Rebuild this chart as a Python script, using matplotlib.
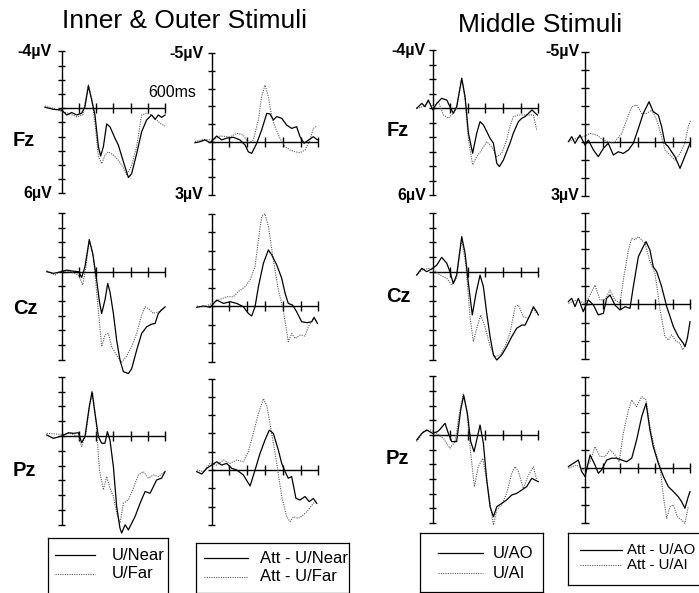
import matplotlib
matplotlib.use("Agg")
import matplotlib.pyplot as plt

plt.rcParams['font.family'] = ['Liberation Sans', 'DejaVu Sans']

W, H = 699, 593

# ERP values: (time in ms, amplitude in µV), negative plotted up
# --- Inner & Outer stimuli, unattended ERPs
io_fz_near = [(-97, -0.07), (-48, 0.07), (0, 0.12), (29, 0.47), (58, 0.3), (87, 0.47), (116, 0.35), (135, -0.12),
              (155, -1.58), (174, -0.6), (193, 0.47), (213, 2.7), (226, 3.36), (242, 2.7), (261, 1.1), (280, 1.3),
              (309, 2.1), (329, 2.6), (358, 3.76), (387, 4.87), (406, 4.6), (435, 3.2), (464, 1.65), (493, 0.82),
              (522, 0.47), (542, 0.78), (561, 0.47), (580, 0.64), (600, 0.47)]
io_fz_far = [(-97, -0.16), (-48, 0), (0, 0.24), (39, 0.35), (87, 0.6), (122, 0.47), (139, -0.6), (155, -1.65),
             (174, -0.7), (193, 1.06), (213, 3.4), (232, 3.9), (251, 3.3), (271, 3.06), (300, 3.3), (329, 3.65),
             (358, 4.2), (377, 4.7), (406, 4.0), (435, 2.7), (464, 0.47), (493, 0.35), (522, 0.47), (551, 0.82),
             (571, 1.06), (600, 1.25)]
io_cz_near = [(-87, 0), (-48, 0.11), (0, 0), (29, -0.11), (58, -0.05), (97, 0), (116, 0.39), (135, -0.34),
              (160, -2.16), (180, -1.25), (203, 0.57), (219, 2.05), (232, 2.84), (251, 1.93), (267, 0.8), (280, 1.36),
              (300, 2.84), (319, 4.66), (338, 6.0), (358, 6.8), (387, 6.93), (406, 6.6), (435, 5.34), (464, 4.2),
              (493, 3.75), (522, 3.57), (542, 3.52), (561, 2.84), (580, 2.6), (600, 2.39)]
io_cz_far = [(-87, -0.07), (-39, 0.23), (0, -0.07), (48, 0), (97, 0.23), (122, 0.9), (141, -0.34), (160, -2.2),
             (184, -1.0), (207, 1.93), (232, 5.1), (251, 4.3), (271, 4.2), (290, 5.1), (319, 5.7), (348, 6.14),
             (373, 5.8), (406, 5.1), (435, 4.2), (464, 2.95), (484, 2.39), (503, 2.5), (532, 2.84), (561, 2.73),
             (600, 2.43)]
io_pz_near = [(-87, -0.07), (-48, 0.16), (0, 0), (39, -0.22), (68, -0.18), (97, -0.22), (116, 0.45), (135, 0.04),
              (160, -1.98), (176, -2.99), (193, -1.53), (213, 0.04), (232, 0.49), (251, 0.49), (265, -0.29),
              (280, 0.27), (300, 2.07), (319, 4.76), (338, 6.22), (348, 6.56), (368, 6.0), (387, 6.34), (406, 5.9),
              (426, 5.44), (455, 4.54), (484, 3.75), (513, 3.87), (532, 3.42), (551, 2.97), (580, 2.85), (600, 2.4)]
io_pz_far = [(-87, -0.18), (0, -0.11), (48, -0.18), (97, 0.04), (116, 0.72), (141, -0.18), (164, -2.2),
             (180, -2.9), (199, -1.08), (219, 2.29), (242, 3.64), (261, 2.74), (280, 3.53), (300, 4.09), (319, 5.2),
             (338, 5.9), (358, 4.54), (387, 4.31), (416, 3.53), (445, 2.63), (474, 2.4), (503, 2.85), (532, 2.63),
             (561, 2.74), (600, 2.4)]

# --- Inner & Outer stimuli, attended minus unattended
io_fz_dnear = [(-94, 0.06), (-66, 0), (-38, -0.1), (-9, 0.06), (28, -0.32), (56, -0.1), (84, -0.2), (122, -0.25),
               (159, -0.1), (188, 0.19), (206, 0.57), (225, 0.66), (253, 0.1), (281, -0.66), (310, -1.6),
               (328, -1.57), (347, -1.23), (366, -1.42), (394, -1.32), (422, -0.94), (450, -0.75), (478, -0.85),
               (497, -0.28), (520, 0.09), (544, -0.09), (572, -0.28), (591, -0.13), (600, -0.09)]
io_fz_dfar = [(-94, 0), (-47, -0.13), (9, -0.09), (47, -0.32), (103, -0.28), (141, -0.47), (178, -0.38),
              (206, 0.09), (234, -0.09), (263, -1.23), (281, -2.55), (300, -3.2), (319, -2.55), (338, -1.42),
              (356, -0.85), (384, -0.19), (413, 0.28), (441, 0.47), (469, 0.57), (497, 0.62), (525, 0.47),
              (553, -0.09), (572, -0.75), (591, -0.89)]
io_cz_dnear = [(-84, 0.07), (-47, 0), (-9, 0.07), (28, -0.32), (66, -0.14), (103, -0.23), (141, -0.14),
               (178, 0.04), (206, 0.4), (225, 0.54), (244, 0.04), (263, -1.05), (291, -2.31), (319, -3.03),
               (338, -2.76), (366, -2.22), (394, -1.5), (413, -0.69), (431, -0.14), (455, -0.05), (478, 0.31),
               (506, 0.85), (535, 0.9), (563, 0.85), (576, 0.61), (595, 0.94)]
io_cz_dfar = [(-84, 0), (-47, 0.07), (0, -0.14), (38, -0.32), (84, -0.5), (122, -0.5), (150, -0.78), (188, -1.05),
              (216, -1.41), (244, -2.13), (263, -3.57), (281, -4.84), (300, -4.98), (319, -4.3), (347, -2.49),
              (375, -0.87), (403, 0.22), (431, 1.93), (450, 1.48), (469, 1.75), (497, 1.57), (525, 1.62),
              (544, 1.12), (572, 0.67), (591, 0.85)]
io_pz_dnear = [(-84, 0.09), (-56, 0.22), (-28, -0.09), (0, -0.27), (28, -0.45), (56, -0.27), (84, -0.36),
               (113, -0.09), (141, 0), (178, 0.27), (216, 0.87), (244, 0), (272, -0.91), (300, -1.64),
               (324, -2.18), (347, -2.0), (375, -1.09), (394, -0.36), (413, 0.09), (431, 0.45), (450, 0.36),
               (474, 1.55), (497, 1.64), (525, 1.45), (549, 1.73), (572, 1.55), (591, 1.82)]
io_pz_dfar = [(-84, 0), (-47, 0.09), (-9, -0.36), (28, -0.27), (66, -0.55), (103, -0.36), (141, -0.55),
              (178, -0.45), (206, -1.0), (234, -2.0), (263, -3.09), (291, -3.9), (310, -3.5), (338, -2.0),
              (366, -0.36), (394, 1.45), (422, 2.55), (441, 2.82), (460, 2.55), (488, 2.64), (516, 2.45),
              (544, 2.18), (572, 1.82), (591, 1.64)]

# --- Middle stimuli, unattended ERPs
mid_fz_ao = [(-91, 0), (-62, -0.34), (-44, -0.11), (-25, -0.57), (0, 0.11), (23, -0.34), (51, -0.69), (80, -0.57),
             (98, -0.11), (117, 0.34), (136, -0.11), (165, -2.07), (184, -0.8), (203, 1.72), (227, 3.1),
             (250, 1.72), (269, 0.92), (288, 1.15), (307, 1.6), (326, 2.07), (345, 2.41), (364, 3.79), (379, 4.02),
             (402, 3.56), (420, 2.99), (439, 2.41), (458, 1.72), (487, 0.92), (506, 0.69), (525, 0.57),
             (545, 0.34), (564, 0.11), (583, 0.34), (595, 0.46)]
mid_fz_ai = [(-91, 0), (-53, -0.11), (-25, -0.46), (4, -0.11), (32, -0.46), (61, 0.46), (89, 0.69), (117, 0.34),
             (136, 0), (165, -2.07), (184, -0.57), (203, 2.18), (227, 3.9), (250, 3.33), (278, 2.87), (307, 2.3),
             (335, 2.64), (364, 3.33), (392, 3.1), (420, 2.18), (439, 1.26), (458, 0.57), (487, 0.46),
             (515, 0.46), (544, 0.46), (572, 0.46), (591, 1.49)]
mid_cz_ao = [(-91, 0.23), (-62, -0.23), (-34, 0), (0, -0.23), (23, -0.45), (51, -0.98), (80, -0.57), (98, 0),
             (117, 0.8), (136, 0.23), (165, -2.39), (184, -1.25), (203, 0.8), (225, 2.95), (246, 1.48),
             (269, 0.23), (288, 1.02), (307, 2.84), (326, 4.43), (345, 5.68), (364, 6.02), (392, 5.68),
             (420, 5.11), (449, 4.43), (477, 3.86), (506, 3.64), (525, 3.64), (553, 2.95), (572, 2.39),
             (591, 2.73), (600, 2.95)]
mid_cz_ai = [(-91, 0.23), (-62, -0.11), (-25, -0.23), (4, -0.11), (42, 0.23), (80, 0.45), (108, 0.91),
             (136, 0.45), (165, -2.27), (189, -0.34), (212, 3.07), (231, 4.77), (250, 3.86), (273, 2.95),
             (297, 3.75), (326, 5.11), (354, 5.8), (383, 5.68), (411, 5.11), (439, 4.2), (468, 2.39), (487, 2.27),
             (515, 3.07), (544, 3.18), (572, 2.5), (591, 2.84)]
mid_pz_ao = [(-91, 0.34), (-62, -0.11), (-34, -0.34), (0, -0.11), (27, -0.23), (42, -0.39), (70, -0.8),
             (89, -0.11), (108, 0.45), (136, 0.45), (159, -1.7), (176, -2.7), (197, -1.48), (216, 0.45),
             (235, 1.14), (250, 0.34), (269, -0.68), (288, 0.57), (307, 3.07), (326, 4.89), (345, 5.57),
             (364, 4.89), (392, 4.66), (420, 4.43), (449, 4.09), (477, 3.98), (506, 3.75), (534, 3.52),
             (563, 2.95), (581, 3.07), (600, 3.18)]
mid_pz_ai = [(-91, 0.45), (-53, -0.23), (-15, -0.34), (23, -0.11), (61, 0.23), (98, 0.91), (127, 0.45),
             (155, -1.7), (174, -2.84), (193, -1.7), (216, 1.25), (237, 3.52), (259, 2.16), (284, 1.59),
             (307, 3.07), (326, 4.66), (345, 6.14), (364, 5.11), (392, 4.77), (420, 3.98), (449, 2.61),
             (468, 2.16), (487, 2.5), (515, 3.64), (544, 2.73), (572, 2.16), (591, 3.07)]

# --- Middle stimuli, attended minus unattended
mid_fz_dao = [(-95, 0), (-76, -0.28), (-57, 0.09), (-29, -0.37), (0, 0.19), (19, -0.09), (48, 0.46), (76, 0.83),
              (105, 0.37), (133, 0.09), (162, 0.74), (190, 0.56), (219, 0.65), (248, 0.46), (276, 0.09),
              (305, -0.74), (333, -1.57), (366, -2.22), (390, -1.67), (419, -1.48), (438, -0.83), (457, 0.09),
              (476, 0.28), (495, 0.56), (514, 0.83), (543, 1.48), (562, 1.02), (581, 0.56), (600, 0.09)]
mid_fz_dai = [(-95, 0), (-48, -0.19), (-10, -0.28), (29, -0.46), (67, -0.37), (105, -0.09), (162, 0.09),
              (210, -0.46), (238, -1.2), (267, -1.94), (295, -2.04), (324, -1.57), (352, -1.57), (381, -1.76),
              (410, -1.2), (438, -0.28), (457, 0.46), (486, 0.74), (514, 1.02), (543, 0.65), (571, 0.09),
              (590, -0.83), (604, -1.2)]
mid_cz_dao = [(-95, -0.15), (-76, -0.33), (-57, 0.13), (-38, -0.33), (-10, 0.4), (19, -0.24), (48, 0.04),
              (76, 0.58), (105, 0.49), (124, -0.33), (143, -0.51), (171, 0.04), (200, 0.31), (229, 0.13),
              (257, 0.22), (276, -0.96), (305, -2.6), (333, -3.15), (349, -3.42), (371, -2.96), (390, -2.05),
              (410, -1.78), (438, -0.96), (467, 0.13), (486, 0.67), (505, 1.22), (533, 1.76), (562, 2.13),
              (571, 2.31), (585, 1.85), (600, 0.95)]
mid_cz_dai = [(-95, -0.05), (-48, -0.24), (0, -0.05), (29, -0.51), (57, -1.05), (86, -0.24), (114, -0.24),
              (143, -0.78), (171, -0.24), (200, -0.05), (219, -1.33), (248, -2.96), (267, -3.6), (286, -3.51),
              (305, -3.69), (324, -3.51), (343, -3.33), (371, -2.33), (400, -1.69), (429, 0.31), (457, 1.76),
              (476, 1.95), (495, 1.67), (524, 2.04), (543, 2.13), (558, 2.49), (581, 2.13)]
mid_pz_dao = [(-95, -0.09), (-67, -0.27), (-38, -0.45), (-19, 0.18), (0, 0.45), (29, -0.73), (57, -0.18),
              (76, 0.27), (95, 0.09), (124, -0.45), (152, -0.55), (181, -0.55), (210, -0.45), (238, -0.36),
              (267, -0.55), (295, -1.55), (324, -2.82), (349, -3.55), (371, -2.09), (390, -1.18), (419, -0.27),
              (448, 0.45), (476, 1.0), (505, 1.27), (533, 1.55), (552, 1.82), (571, 2.18), (590, 1.55), (600, 1.27)]
mid_pz_dai = [(-95, 0), (-48, -0.18), (-10, 0.09), (29, -0.36), (57, -1.18), (86, -0.64), (114, -0.64),
              (143, -1.0), (171, -0.73), (195, -0.36), (219, -1.91), (248, -3.18), (267, -3.73), (295, -3.36),
              (324, -3.91), (349, -3.73), (371, -2.27), (400, -1.0), (429, -0.09), (448, 1.55), (467, 2.73),
              (486, 2.09), (505, 2.0), (528, 2.64), (552, 2.82), (571, 3.0), (590, 2.09)]

titles = ["Inner & Outer Stimuli", "Middle Stimuli"]
sites = ["Fz", "Cz", "Pz"]
legend_labels = [["U/Near", "U/Far"], ["Att - U/Near", "Att - U/Far"],
                 ["U/AO", "U/AI"], ["Att - U/AO", "Att - U/AI"]]

panels = [
    [(io_fz_near, io_fz_far), (io_cz_near, io_cz_far), (io_pz_near, io_pz_far)],
    [(io_fz_dnear, io_fz_dfar), (io_cz_dnear, io_cz_dfar), (io_pz_dnear, io_pz_dfar)],
    [(mid_fz_ao, mid_fz_ai), (mid_cz_ao, mid_cz_ai), (mid_pz_ao, mid_pz_ai)],
    [(mid_fz_dao, mid_fz_dai), (mid_cz_dao, mid_cz_dai), (mid_pz_dao, mid_pz_dai)],
]

# layout in pixels: per column x of t=0, px per ms, axis range; per row baseline y and px per µV
col_x0 = [61.7, 211.7, 432.7, 585.0]
col_ppms = [0.1723, 0.1777, 0.176, 0.175]
col_range = [(-4, 6), (-5, 3), (-4, 6), (-5, 3)]
col_gap = [10, 8.5, 7, 5.5]
row_base = [[108.3, 271.7, 436.0], [141.7, 306.0, 470.0], [108.3, 271.7, 435.0], [141.7, 304.3, 468.3]]
row_ppuv = [[14.2, 14.7, 14.8], [17.7, 18.5, 18.3], [14.5, 14.67, 14.67], [18.0, 18.33, 18.33]]

fig = plt.figure(figsize=(W / 100, H / 100), dpi=100)


def panel(c, r, solid, dotted):
    x0, ppms = col_x0[c], col_ppms[c]
    base, ppuv = row_base[c][r], row_ppuv[c][r]
    lo, hi = col_range[c]
    tmin, tmax = -120, 620
    vmin, vmax = lo - 1, hi + 2
    left = x0 + tmin * ppms
    top = base + vmin * ppuv
    ax = fig.add_axes([left / W, 1 - (top + (vmax - vmin) * ppuv) / H,
                       (tmax - tmin) * ppms / W, (vmax - vmin) * ppuv / H])
    ax.set_xlim(tmin, tmax)
    ax.set_ylim(vmax, vmin)
    ax.axis('off')
    kw = dict(color='k', lw=1.0, clip_on=False, solid_capstyle='butt')
    ax.plot([0, 0], [lo, hi], **kw)
    for v in range(lo, hi + 1):
        ax.plot([-3.7 / ppms, 3.7 / ppms], [v, v], **kw)
    ax.plot([0, 600], [0, 0], **kw)
    for t in range(100, 601, 100):
        ax.plot([t, t], [-5 / ppuv, 5 / ppuv], **kw)
    ax.plot(*zip(*dotted), color='0.35', lw=0.8, ls=(0, (1, 1.1)), clip_on=False)
    ax.plot(*zip(*solid), color='k', lw=0.9, clip_on=False)
    if r == 0:
        tx = -col_gap[c] / ppms
        ax.text(tx, lo, f"{lo}\u00b5V", ha='right', va='center', fontsize=11.5, weight='bold')
        ax.text(tx, hi, f"{hi}\u00b5V", ha='right', va='center', fontsize=11.5, weight='bold')
    return ax


for c in range(4):
    for r in range(3):
        ax = panel(c, r, *panels[c][r])
        if c == 0 and r == 0:
            ax.text(503, -1.08, "600ms", ha='left', va='center', fontsize=11.5)

# titles and electrode names
fig.text(184.5 / W, 1 - 21 / H, titles[0], ha='center', va='center', fontsize=19)
fig.text(540 / W, 1 - 25 / H, titles[1], ha='center', va='center', fontsize=19)
site_pos = [[(24, 140.7), (25, 308), (24, 471)], [(397.5, 130), (398, 297), (397.5, 458)]]
for g in range(2):
    for r, name in enumerate(sites):
        x, y = site_pos[g][r]
        fig.text(x / W, 1 - y / H, name, ha='center', va='center', fontsize=14.5, weight='bold')

# legend boxes: box (x0, y0, x1, y1), key line x range, key y's, text x, font size
legend_boxes = [
    ((48.3, 538.3, 168.3, 600), (55, 95), (555, 573.5), 111.5, 12),
    ((196, 543.3, 349.3, 592.5), (204, 248), (558.3, 576.7), 260, 12),
    ((420, 533.3, 542.7, 591.7), (438, 483), (553.3, 573.3), 493, 12),
    ((568.3, 533.3, 720, 585), (580, 622), (550, 565.5), 627, 10.8),
]
for i, ((bx0, by0, bx1, by1), (lx0, lx1), (ys, yd), tx0, fs) in enumerate(legend_boxes):
    lax = fig.add_axes([bx0 / W, 1 - by1 / H, (bx1 - bx0) / W, (by1 - by0) / H])
    lax.set_xlim(bx0, bx1)
    lax.set_ylim(by1, by0)
    lax.set_xticks([])
    lax.set_yticks([])
    for s in lax.spines.values():
        s.set_linewidth(0.9)
    lax.plot([lx0, lx1], [ys, ys], color='k', lw=0.9, clip_on=False)
    lax.plot([lx0, lx1], [yd, yd], color='0.35', lw=0.8, ls=(0, (1, 1.1)), clip_on=False)
    lax.text(tx0, ys, legend_labels[i][0], ha='left', va='center', fontsize=fs, clip_on=False)
    lax.text(tx0, yd, legend_labels[i][1], ha='left', va='center', fontsize=fs, clip_on=False)

fig.savefig("out.png", dpi=100)
